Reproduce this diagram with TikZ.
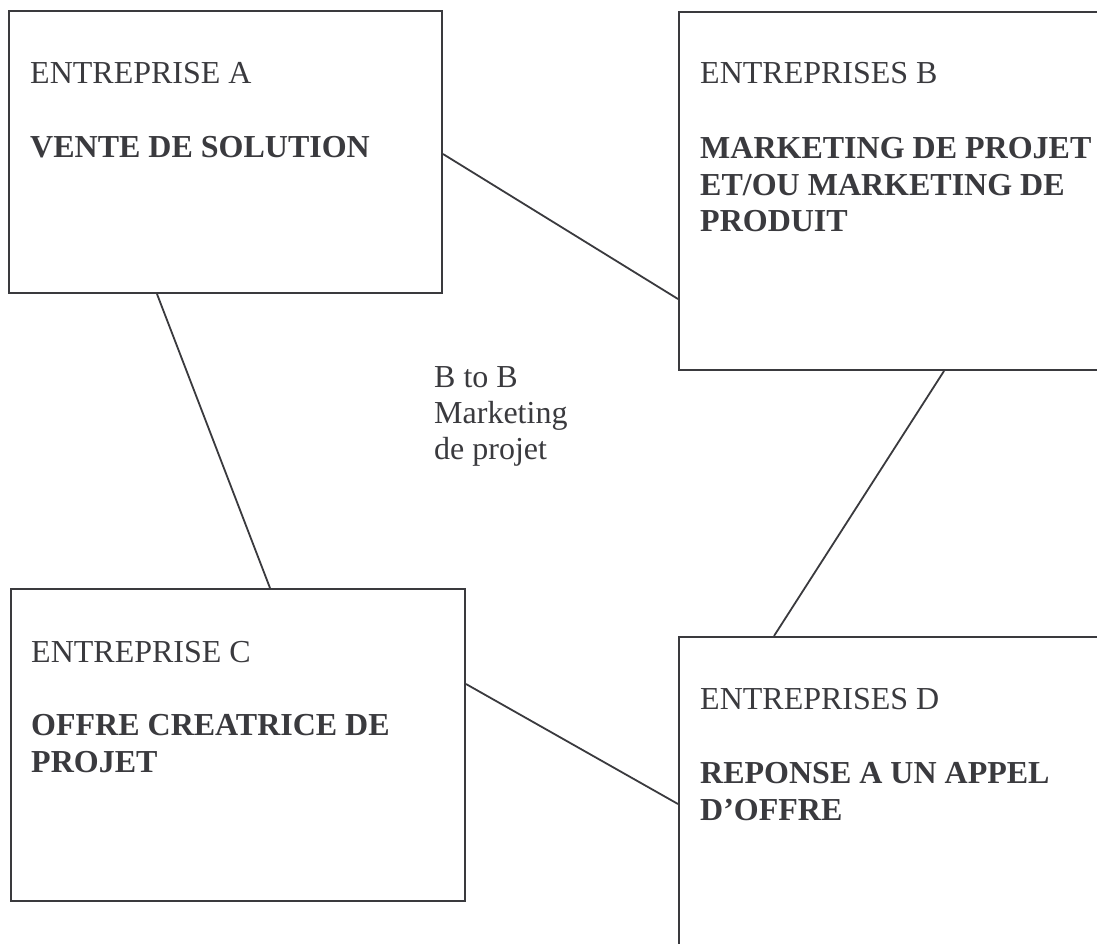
\documentclass[tikz,border=0pt]{standalone}
\usepackage{fontspec}
\setmainfont{Liberation Serif}
\definecolor{ink}{RGB}{58,58,62}
\begin{document}
\begin{tikzpicture}[x=1pt,y=-1pt,
  box/.style={draw=ink,line width=2pt,anchor=north west,inner sep=0pt},
  link/.style={draw=ink,line width=1.8pt},
  lbl/.style={anchor=base west,inner sep=0pt,text=ink,font=\fontsize{32}{37}\selectfont},
  blbl/.style={lbl,font=\fontsize{32}{37}\selectfont\bfseries}]
\useasboundingbox (0,0) rectangle (1097,943);
\clip (0,0) rectangle (1097,943);
\node[box,minimum width=433pt,minimum height=282pt] (A) at (8,10) {};
\node[box,minimum width=440pt,minimum height=358pt] (B) at (678,11) {};
\node[box,minimum width=454pt,minimum height=312pt] (C) at (10,588) {};
\node[box,minimum width=440pt,minimum height=330pt] (D) at (678,636) {};
% texts
\node[lbl] (tA) at (30,83) {ENTREPRISE A};
\node[blbl] (bA) at (30,157) {VENTE DE SOLUTION};
\node[lbl] (tB) at (700,83) {ENTREPRISES B};
\node[blbl] (bB1) at (700,158) {MARKETING DE PROJET};
\node[blbl] (bB2) at (700,195) {ET/OU MARKETING DE};
\node[blbl] (bB3) at (700,231) {PRODUIT};
\node[lbl] (tC) at (31,662) {ENTREPRISE C};
\node[blbl] (bC1) at (31,735) {OFFRE CREATRICE DE};
\node[blbl] (bC2) at (31,772) {PROJET};
\node[lbl] (tD) at (700,709) {ENTREPRISES D};
\node[blbl] (bD1) at (700,783) {REPONSE A UN APPEL};
\node[blbl] (bD2) at (700,820) {D’OFFRE};
\node[lbl] (m1) at (434,387) {B to B};
\node[lbl] (m2) at (434,423) {Marketing};
\node[lbl] (m3) at (434,459) {de projet};
% connector end points on box borders
\coordinate (ab1) at (A.east |- 0,154);
\coordinate (ab2) at (B.west |- 0,299);
\coordinate (ac1) at (A.south -| 157,0);
\coordinate (ac2) at (C.north -| 270,0);
\coordinate (bd1) at (B.south -| 944,0);
\coordinate (bd2) at (D.north -| 774,0);
\coordinate (cd1) at (C.east |- 0,684);
\coordinate (cd2) at (D.west |- 0,804);
\draw[link] (ab1) -- (ab2);
\draw[link] (ac1) -- (ac2);
\draw[link] (bd1) -- (bd2);
\draw[link] (cd1) -- (cd2);
\end{tikzpicture}
\end{document}
